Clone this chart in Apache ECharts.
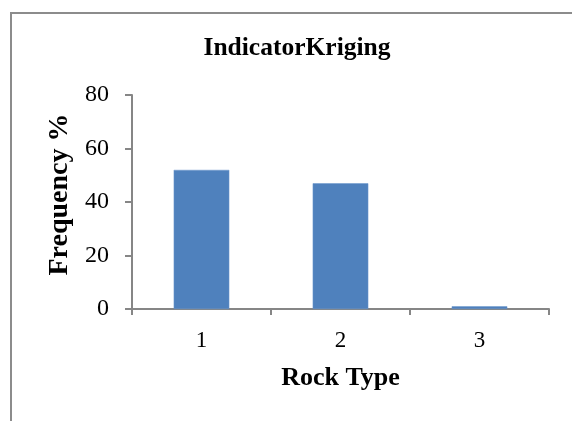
<!DOCTYPE html>
<html>
<head>
<meta charset="utf-8">
<script src="https://cdn.jsdelivr.net/npm/echarts@6/dist/echarts.min.js"></script>
<style>
  html, body { margin: 0; padding: 0; background: #fff; }
  #chart { width: 572px; height: 421px; }
</style>
</head>
<body>
<div id="chart"></div>
<script>
// Rock type frequencies from indicator kriging
const categories = ['1', '2', '3'];
const frequency = [52, 47, 1];
const yTicks = [0, 20, 40, 60, 80];

const chart = echarts.init(document.getElementById('chart'), null, { renderer: 'canvas' });
const serif = '"Liberation Serif", "Times New Roman", serif';
const axisGray = '#868686';

chart.setOption({
  backgroundColor: '#ffffff',
  animation: false,
  graphic: [{
    type: 'rect',
    shape: { x: 11, y: 13, width: 600, height: 460 },
    style: { fill: 'none', stroke: '#8c8c8c', lineWidth: 2 },
    silent: true
  }],
  title: {
    text: 'IndicatorKriging',
    left: 292,
    top: 30,
    textAlign: 'center',
    textStyle: { fontFamily: serif, fontSize: 25.5, fontWeight: 'bold', color: '#000' }
  },
  grid: { left: 132, right: 23, top: 95, bottom: 112, containLabel: false },
  xAxis: {
    type: 'category',
    data: categories,
    name: 'Rock Type',
    nameLocation: 'middle',
    nameGap: 56,
    nameTextStyle: { fontFamily: serif, fontSize: 26, fontWeight: 'bold', color: '#000' },
    axisLine: { lineStyle: { color: axisGray, width: 2 } },
    axisTick: { show: true, length: 6, alignWithLabel: false, lineStyle: { color: axisGray, width: 2 } },
    axisLabel: { fontFamily: serif, fontSize: 23, color: '#000', margin: 20 }
  },
  yAxis: {
    type: 'value',
    min: yTicks[0],
    max: yTicks[yTicks.length - 1],
    interval: yTicks[1] - yTicks[0],
    name: 'Frequency %',
    nameLocation: 'middle',
    nameGap: 56,
    nameTextStyle: { fontFamily: serif, fontSize: 28, fontWeight: 'bold', color: '#000', padding: [0, 0, 0, 15] },
    axisLine: { show: true, lineStyle: { color: axisGray, width: 2 } },
    axisTick: { show: true, length: 7, lineStyle: { color: axisGray, width: 2 } },
    axisLabel: { fontFamily: serif, fontSize: 24, color: '#000', margin: 23 },
    splitLine: { show: false }
  },
  series: [{
    type: 'bar',
    data: frequency,
    barWidth: '40%',
    itemStyle: { color: '#4f81bd', borderColor: '#6a96cc', borderWidth: 0.5 }
  }]
});
</script>
</body>
</html>
